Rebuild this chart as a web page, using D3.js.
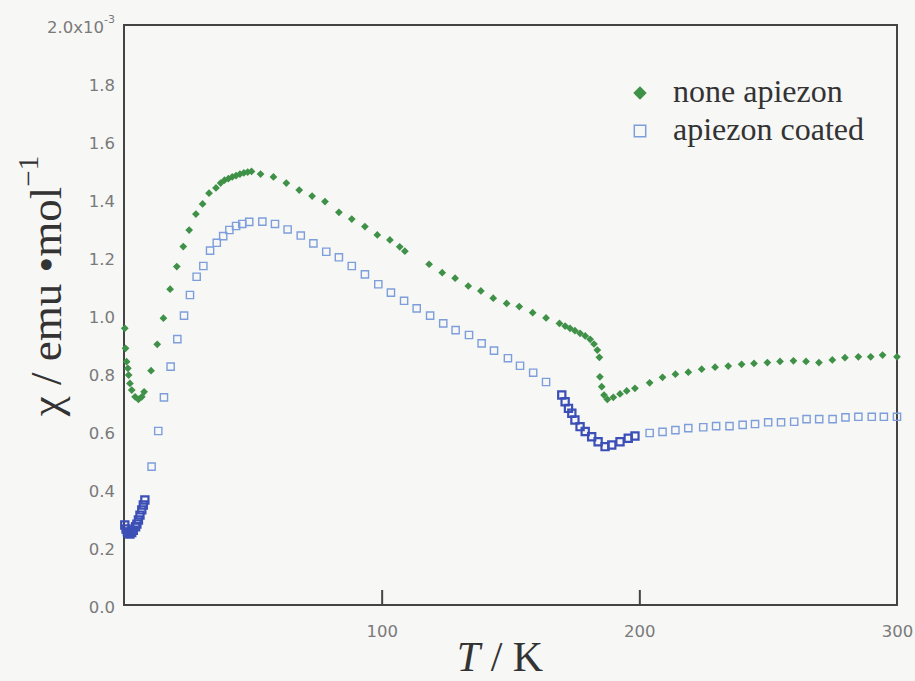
<!DOCTYPE html>
<html>
<head>
<meta charset="utf-8">
<script src="https://cdn.jsdelivr.net/npm/d3@7"></script>
<style>
  html, body { margin: 0; padding: 0; background: #f7f7f6; overflow: hidden; }
  svg { display: block; }
</style>
</head>
<body>
<div id="chart"></div>
<script>
// magnetic susceptibility vs temperature, two samples
// values are [T (K), chi (x10^-3 emu/mol)]

// uncoated sample, filled green diamonds
const noneApiezon = [
  [0.3, 0.954], [0.6, 0.885], [1.0, 0.839], [1.5, 0.816], [1.8, 0.793], [2.3, 0.764],
  [3.0, 0.741], [4.3, 0.718], [5.6, 0.709], [6.9, 0.718], [7.8, 0.735],
  [10.5, 0.808], [12.9, 0.899], [15.3, 0.989], [17.9, 1.089], [20.5, 1.167],
  [23.0, 1.236], [25.3, 1.293], [27.9, 1.348], [30.5, 1.383], [33.0, 1.420],
  [35.7, 1.438], [37.5, 1.455], [39.0, 1.465], [40.5, 1.470], [42.0, 1.476],
  [43.5, 1.481], [45.0, 1.486], [46.5, 1.490], [48.0, 1.493], [49.5, 1.495],
  [53.0, 1.486], [58.0, 1.476], [63.0, 1.455], [68.0, 1.431], [73.0, 1.410],
  [78.0, 1.391], [83.4, 1.354], [88.4, 1.331], [93.5, 1.305], [98.3, 1.276],
  [103.2, 1.259], [107.0, 1.235], [109.0, 1.220], [118.4, 1.175], [123.5, 1.146],
  [128.5, 1.127], [133.6, 1.100], [138.5, 1.083], [143.3, 1.058], [148.5, 1.040],
  [153.4, 1.029], [158.6, 1.008], [163.8, 0.990], [169.0, 0.971], [171.2, 0.962],
  [173.1, 0.954], [175.0, 0.946], [177.0, 0.937], [179.0, 0.928], [180.9, 0.916],
  [182.4, 0.900], [183.7, 0.879], [184.5, 0.854], [184.7, 0.787], [185.4, 0.753],
  [186.3, 0.724], [187.6, 0.709], [189.9, 0.716], [192.5, 0.728], [195.1, 0.738],
  [198.3, 0.747], [204.0, 0.766], [209.0, 0.785], [214.0, 0.796], [219.0, 0.803],
  [224.2, 0.813], [229.4, 0.820], [234.5, 0.824], [239.7, 0.830], [244.5, 0.833],
  [249.7, 0.836], [254.6, 0.840], [259.8, 0.842], [264.7, 0.840], [269.7, 0.836],
  [274.9, 0.845], [279.8, 0.853], [285.0, 0.856], [289.8, 0.856], [294.4, 0.862],
  [300.0, 0.856]
];

// coated sample, open squares (sparse part)
const apiezonCoated = [
  [10.7, 0.477], [13.3, 0.600], [15.5, 0.716], [18.1, 0.822], [20.7, 0.917],
  [23.3, 0.998], [25.6, 1.069], [28.2, 1.132], [30.8, 1.169], [33.4, 1.222],
  [36.0, 1.249], [38.5, 1.272], [40.9, 1.293], [43.5, 1.307], [45.9, 1.314],
  [48.6, 1.321], [53.7, 1.322], [58.6, 1.314], [63.5, 1.295], [68.6, 1.274],
  [73.5, 1.247], [78.5, 1.218], [83.4, 1.199], [88.4, 1.169], [93.5, 1.140],
  [98.7, 1.106], [103.6, 1.077], [108.7, 1.049], [113.6, 1.023], [118.8, 0.998],
  [123.9, 0.971], [128.7, 0.948], [133.9, 0.931], [138.8, 0.902], [143.6, 0.877],
  [149.0, 0.851], [153.7, 0.825], [158.8, 0.801], [163.8, 0.769],
  [204.0, 0.593], [209.0, 0.597], [214.0, 0.603], [219.0, 0.610], [224.8, 0.613],
  [229.8, 0.617], [235.0, 0.617], [240.1, 0.621], [244.9, 0.624], [250.0, 0.630],
  [255.0, 0.630], [260.1, 0.632], [264.9, 0.641], [269.8, 0.641], [275.0, 0.641],
  [280.0, 0.647], [285.0, 0.649], [290.2, 0.649], [294.9, 0.649], [300.0, 0.649]
];

// coated sample, densely measured stretches (squares pile up and look dark)
const apiezonCoatedDense = [
  [0.3, 0.276], [0.8, 0.262], [1.3, 0.252], [1.7, 0.247], [2.3, 0.245], [3.0, 0.250],
  [3.6, 0.258], [4.5, 0.270], [5.0, 0.279], [5.6, 0.293], [6.2, 0.310], [6.9, 0.328],
  [7.5, 0.345], [8.1, 0.362],
  [169.9, 0.724], [171.2, 0.701], [172.5, 0.678], [173.8, 0.661], [175.0, 0.638],
  [177.0, 0.615], [179.0, 0.598], [181.5, 0.580], [184.0, 0.563], [186.7, 0.546],
  [189.3, 0.552], [192.5, 0.563], [195.7, 0.575], [198.3, 0.583]
];

const yTicks = [0, 0.2, 0.4, 0.6, 0.8, 1.0, 1.2, 1.4, 1.6, 1.8, 2.0];
const xTicks = [100, 200, 300];
const legendLabels = ["none apiezon", "apiezon coated"];

const width = 915, height = 681;
const margin = { top: 25, right: 18, bottom: 76, left: 124 };

const GREEN = "#3e9147";
const BLUE = "#7d9edb";
const DARK_BLUE = "#3c4fb6";

const svg = d3.select("#chart").append("svg")
  .attr("width", width)
  .attr("height", height)
  .attr("viewBox", `0 0 ${width} ${height}`);

const x = d3.scaleLinear().domain([0, 300]).range([margin.left, width - margin.right]);
const y = d3.scaleLinear().domain([0, 2.0]).range([height - margin.bottom, margin.top]);

// frame, four sides
const [x0, x1] = x.range();
const [y0, y1] = y.range();
const frame = svg.append("g").attr("stroke", "#444").attr("stroke-width", 2).attr("stroke-linecap", "square");
frame.append("line").attr("x1", x0).attr("x2", x1).attr("y1", y0).attr("y2", y0);
frame.append("line").attr("x1", x0).attr("x2", x1).attr("y1", y1).attr("y2", y1);
frame.append("line").attr("x1", x0).attr("x2", x0).attr("y1", y0).attr("y2", y1);
frame.append("line").attr("x1", x1).attr("x2", x1).attr("y1", y0).attr("y2", y1);

// x axis: inward ticks, labels below
const xAxis = d3.axisBottom(x).tickValues(xTicks).tickSizeInner(-15).tickSizeOuter(0).tickPadding(20);
const gx = svg.append("g").attr("transform", `translate(0,${y(0)})`).call(xAxis);
gx.select(".domain").remove();
gx.selectAll(".tick line").attr("stroke", "#444").attr("stroke-width", 2)
  .filter(d => d === 300).remove();
gx.selectAll(".tick text")
  .attr("font-family", "DejaVu Sans").attr("font-size", 16.5).attr("fill", "#7a7a7a");

// y axis: labels only
const yAxis = d3.axisLeft(y).tickValues(yTicks).tickSize(0).tickPadding(9)
  .tickFormat(d3.format(".1f"));
const gy = svg.append("g").attr("transform", `translate(${x(0)},0)`).call(yAxis);
gy.select(".domain").remove();
gy.selectAll(".tick text")
  .attr("font-family", "DejaVu Sans").attr("font-size", 16.5).attr("fill", "#7a7a7a")
  .attr("dy", "0.45em");
// top label carries the exponent
gy.selectAll(".tick text").filter(d => d === 2.0)
  .text(null)
  .call(t => {
    t.append("tspan").text("2.0x10");
    t.append("tspan").attr("font-size", 11).attr("dy", "-0.9em").text("-3");
  });

// data
const diamond = d3.symbol().type(d3.symbolSquare).size(30);
const square = d3.symbol().type(d3.symbolSquare).size(52);

svg.append("g").selectAll("path")
  .data(apiezonCoated)
  .join("path")
  .attr("d", square)
  .attr("transform", d => `translate(${x(d[0])},${y(d[1])})`)
  .attr("fill", "none").attr("stroke", BLUE).attr("stroke-width", 1.4);

svg.append("g").selectAll("path")
  .data(apiezonCoatedDense)
  .join("path")
  .attr("d", square)
  .attr("transform", d => `translate(${x(d[0])},${y(d[1])})`)
  .attr("fill", "none").attr("stroke", DARK_BLUE).attr("stroke-width", 2.2);

svg.append("g").selectAll("path")
  .data(noneApiezon)
  .join("path")
  .attr("d", diamond)
  .attr("transform", d => `translate(${x(d[0])},${y(d[1])}) rotate(45)`)
  .attr("fill", GREEN);

// legend
const legend = svg.append("g").attr("font-family", "Liberation Serif").attr("font-size", 32).attr("fill", "#333");
legend.append("path")
  .attr("d", d3.symbol().type(d3.symbolSquare).size(90))
  .attr("transform", "translate(640,93) rotate(45)")
  .attr("fill", GREEN);
legend.append("path")
  .attr("d", d3.symbol().type(d3.symbolSquare).size(130))
  .attr("transform", "translate(640,131)")
  .attr("fill", "none").attr("stroke", BLUE).attr("stroke-width", 1.5);
legend.append("text").attr("x", 673).attr("y", 102).text(legendLabels[0]);
legend.append("text").attr("x", 673).attr("y", 140).text(legendLabels[1]);

// axis titles
const xTitle = svg.append("text")
  .attr("x", 500).attr("y", 671)
  .attr("text-anchor", "middle")
  .attr("font-family", "Liberation Serif").attr("font-size", 42).attr("fill", "#333");
xTitle.append("tspan").attr("font-style", "italic").text("T");
xTitle.append("tspan").text(" / K");

const yTitle = svg.append("text")
  .attr("transform", "translate(61,286) rotate(-90)")
  .attr("text-anchor", "middle")
  .attr("font-family", "Liberation Serif").attr("font-size", 45).attr("fill", "#333");
yTitle.append("tspan").text("χ / emu •mol");
yTitle.append("tspan").attr("font-size", 29).attr("dy", "-0.8em").text("−1");
</script>
</body>
</html>
